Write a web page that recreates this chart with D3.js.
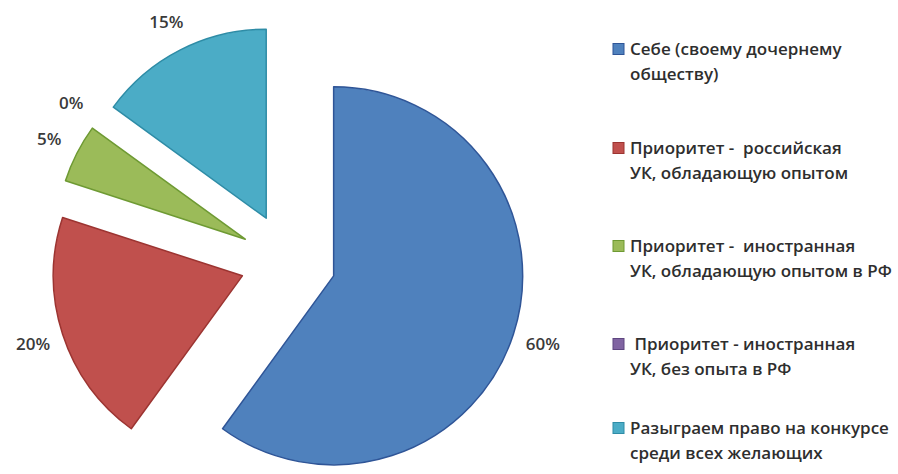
<!DOCTYPE html>
<html>
<head>
<meta charset="utf-8">
<script src="https://cdn.jsdelivr.net/npm/d3@7"></script>
<style>
  html, body { margin: 0; padding: 0; background: #fff; }
  svg { display: block; }
  text { font-family: "Open Sans", sans-serif; }
</style>
</head>
<body>
<div id="container"></div>
<script>
"use strict";

// data
const categories = [
	"Себе (своему дочернему|обществу)",
	"Приоритет -  российская|УК, обладающую опытом",
	"Приоритет -  иностранная|УК, обладающую опытом в РФ",
	" Приоритет - иностранная|УК, без опыта в РФ",
	"Разыграем право на конкурсе|среди всех желающих",
];
const values = [60, 20, 5, 0, 15];
const valueLabels = ["60%", "20%", "5%", "0%", "15%"];

// excel 2007 palette
const fills = ["#4F81BD", "#C0504D", "#9BBB59", "#8064A2", "#4BACC6"];
const strokes = ["#2F5597", "#9C3431", "#6E9A33", "#5E4680", "#2E8CA6"];

const W = 898,
	H = 474;
const cx = 288,
	cy = 261,
	radius = 189,
	explode = 48,
	labelR = 268;

const svg = d3
	.select("#container")
	.append("svg")
	.attr("width", W)
	.attr("height", H);

svg.append("rect").attr("width", W).attr("height", H).attr("fill", "#fff");

const pie = d3
	.pie()
	.sort(null)
	.value((d) => d)
	.startAngle(0)
	.endAngle(2 * Math.PI);
const arcs = pie(values);
const arc = d3.arc().innerRadius(0).outerRadius(radius);

const mid = (d) => (d.startAngle + d.endAngle) / 2;

const gPie = svg.append("g").attr("transform", `translate(${cx},${cy})`);

// exploded slices
gPie
	.selectAll("path")
	.data(arcs.filter((d) => d.value > 0))
	.enter()
	.append("path")
	.attr("d", arc)
	.attr("transform", (d) => {
		const a = mid(d);
		return `translate(${explode * Math.sin(a)},${-explode * Math.cos(a)})`;
	})
	.attr("fill", (d) => fills[d.index])
	.attr("stroke", (d) => strokes[d.index])
	.attr("stroke-width", 1.5)
	.attr("stroke-linejoin", "round");

// percent labels
gPie
	.selectAll("text")
	.data(arcs)
	.enter()
	.append("text")
	.attr("x", (d) => labelR * Math.sin(mid(d)))
	.attr("y", (d) => -labelR * Math.cos(mid(d)))
	.attr("dy", "0.35em")
	.attr("text-anchor", "middle")
	.attr("font-size", 17)
	.attr("font-weight", 600)
	.attr("fill", "#3a3a3a")
	.text((d, i) => valueLabels[i]);

// legend
const legendY = d3
	.scaleOrdinal()
	.domain(categories)
	.range([49, 148, 246, 344, 428]);

const legend = svg.append("g").attr("transform", "translate(613,0)");
const items = legend
	.selectAll("g")
	.data(categories)
	.enter()
	.append("g")
	.attr("transform", (d) => `translate(0,${legendY(d)})`);

items
	.append("rect")
	.attr("x", 0)
	.attr("y", -5.5)
	.attr("width", 11)
	.attr("height", 11)
	.attr("fill", (d, i) => fills[i])
	.attr("stroke", (d, i) => strokes[i])
	.attr("stroke-width", 1);

items
	.append("text")
	.attr("font-size", 17)
	.attr("font-weight", 600)
	.attr("fill", "#2e2e2e")
	.attr("xml:space", "preserve")
	.style("white-space", "pre")
	.selectAll("tspan")
	.data((d) => d.split("|"))
	.enter()
	.append("tspan")
	.attr("x", 17)
	.attr("y", (d, i) => 6 + i * 25)
	.text((d) => d);
</script>
</body>
</html>
